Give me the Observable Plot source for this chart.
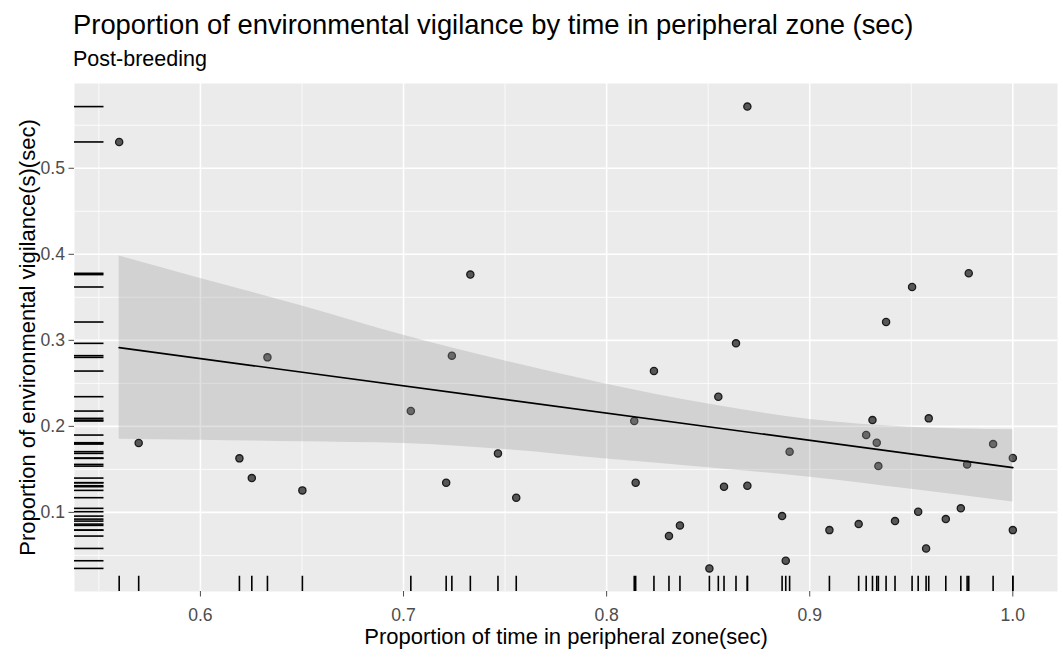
<!DOCTYPE html>
<html>
<head>
<meta charset="utf-8">
<script src="https://cdn.jsdelivr.net/npm/d3@7"></script>
<script src="https://cdn.jsdelivr.net/npm/@observablehq/plot@0.6"></script>
<style>
  body { margin: 0; background: #ffffff; font-family: "Liberation Sans", Arial, sans-serif; }
  #wrap { position: relative; width: 1063px; height: 660px; overflow: hidden; background: #fff; }
  #title { position: absolute; left: 73px; top: 10.5px; font-size: 27.4px; line-height: 1; color: #000; white-space: nowrap; z-index: 2; }
  #subtitle { position: absolute; left: 73px; top: 49px; font-size: 21.5px; line-height: 1; color: #000; white-space: nowrap; z-index: 2; }
  #chart { position: absolute; left: 0; top: 70px; z-index: 1; }
  #chart svg { font-family: "Liberation Sans", Arial, sans-serif; background: transparent; }
</style>
</head>
<body>
<div id="wrap">
  <div id="title">Proportion of environmental vigilance by time in peripheral zone (sec)</div>
  <div id="subtitle">Post-breeding</div>
  <div id="chart"></div>
</div>
<script>
// Proportion of time in peripheral zone (x)
const timePeripheral = [
  0.5600, 0.5696, 0.6192, 0.6253, 0.6330, 0.6502, 0.7036, 0.7210, 0.7238, 0.7329,
  0.7465, 0.7555, 0.8136, 0.8143, 0.8233, 0.8307, 0.8361, 0.8506, 0.8550, 0.8578,
  0.8637, 0.8693, 0.8693, 0.8864, 0.8882, 0.8901, 0.9097, 0.9241, 0.9278, 0.9309,
  0.9330, 0.9338, 0.9376, 0.9420, 0.9504, 0.9534, 0.9573, 0.9586, 0.9670, 0.9744,
  0.9775, 0.9783, 0.9903, 1.0000, 1.0000
];
// Proportion of environmental vigilance (y)
const vigilance = [
  0.5306, 0.1806, 0.1628, 0.1399, 0.2802, 0.1256, 0.2178, 0.1345, 0.2822, 0.3764,
  0.1686, 0.1171, 0.2062, 0.1345, 0.2643, 0.0725, 0.0849, 0.0349, 0.2345, 0.1299,
  0.2965, 0.5717, 0.1310, 0.0957, 0.0438, 0.1706, 0.0794, 0.0864, 0.1899, 0.2073,
  0.1810, 0.1538, 0.3213, 0.0899, 0.3620, 0.1008, 0.0581, 0.2093, 0.0922, 0.1047,
  0.1558, 0.3779, 0.1794, 0.1632, 0.0794
];

// Fitted linear trend and its confidence band
const fitX     = [0.56, 1.00];
const fitY     = [0.2915, 0.152];
const bandX    = [0.56, 0.60, 0.65, 0.70, 0.75, 0.80, 0.85, 0.90, 0.95, 1.00];
const bandUpper= [0.398, 0.372, 0.340, 0.306, 0.276, 0.249, 0.226, 0.208, 0.199, 0.196];
const bandLower= [0.185, 0.184, 0.182, 0.180, 0.173, 0.162, 0.152, 0.141, 0.127, 0.112];

const xTicks = [0.6, 0.7, 0.8, 0.9, 1.0];
const xMinor = [0.55, 0.65, 0.75, 0.85, 0.95];
const yTicks = [0.1, 0.2, 0.3, 0.4, 0.5];
const yMinor = [0.05, 0.15, 0.25, 0.35, 0.45, 0.55];

const xTitle = "Proportion of time in peripheral zone(sec)";
const yTitle = "Proportion of environmental vigilance(s)(sec)";

const data = timePeripheral.map((x, i) => ({x, y: vigilance[i]}));
const fit = fitX.map((x, i) => ({x, y: fitY[i]}));
const band = bandX.map((x, i) => ({x, lo: bandLower[i], hi: bandUpper[i]}));

function expand(ext, f = 0.05) {
  const d = ext[1] - ext[0];
  return [ext[0] - d * f, ext[1] + d * f];
}
const xDomain = expand(d3.extent(timePeripheral));
const yDomain = expand(d3.extent(vigilance));

const W = 1063, H = 590;
const mL = 74, mR = 6, mT = 13, mB = 69;
const panelW = W - mL - mR, panelH = H - mT - mB;

const chart = Plot.plot({
  width: W,
  height: H,
  marginLeft: mL,
  marginRight: mR,
  marginTop: mT,
  marginBottom: mB,
  style: {fontFamily: "Liberation Sans, Arial, sans-serif", background: "transparent"},
  x: {domain: xDomain, axis: null},
  y: {domain: yDomain, axis: null},
  marks: [
    Plot.frame({fill: "#EBEBEB", stroke: null}),
    Plot.ruleX(xMinor, {stroke: "#ffffff", strokeWidth: 0.8}),
    Plot.ruleY(yMinor, {stroke: "#ffffff", strokeWidth: 0.8}),
    Plot.ruleX(xTicks, {stroke: "#ffffff", strokeWidth: 1.6}),
    Plot.ruleY(yTicks, {stroke: "#ffffff", strokeWidth: 1.6}),
    Plot.dot(data, {x: "x", y: "y", r: 3.6, fill: "#575757", stroke: "#1a1a1a", strokeWidth: 1.3}),
    Plot.areaY(band, {x: "x", y1: "lo", y2: "hi", fill: "#999999", fillOpacity: 0.3, curve: "monotone-x"}),
    Plot.line(fit, {x: "x", y: "y", stroke: "#000000", strokeWidth: 1.7}),
    Plot.ruleX(data, {x: "x", insetTop: panelH * 0.97, stroke: "#000000", strokeWidth: 1.6}),
    Plot.ruleY(data, {y: "y", insetRight: panelW * 0.97, stroke: "#000000", strokeWidth: 1.6}),
    Plot.axisX({ticks: xTicks, tickSize: 5.5, tickPadding: 11, tickFormat: d3.format(".1f"), fontSize: 17.6, color: "#4d4d4d", label: null}),
    Plot.axisY({ticks: yTicks, tickSize: 5.5, tickPadding: 4, tickFormat: d3.format(".1f"), fontSize: 17.6, color: "#4d4d4d", label: null}),
    Plot.text([xTitle], {frameAnchor: "bottom", dy: 45, textAnchor: "middle", lineAnchor: "middle", fontSize: 22, fill: "#000000"}),
    Plot.text([yTitle], {frameAnchor: "left", dx: -47, rotate: -90, textAnchor: "middle", lineAnchor: "middle", fontSize: 22, fill: "#000000"})
  ]
});
document.getElementById("chart").appendChild(chart);
</script>
</body>
</html>
